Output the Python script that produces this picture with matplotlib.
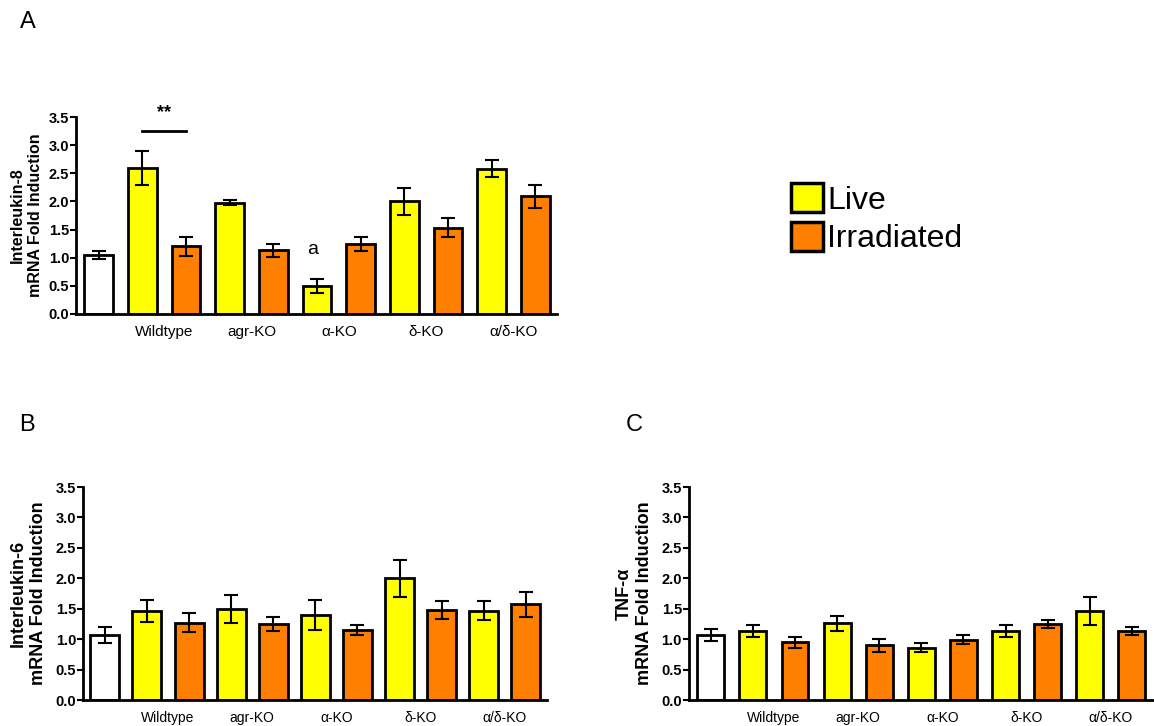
import matplotlib
matplotlib.use("Agg")
import matplotlib.pyplot as plt
from matplotlib.patches import Patch

plt.rcParams['font.family'] = ['Liberation Sans', 'DejaVu Sans']

groups = ['Wildtype', 'agr-KO', 'α-KO', 'δ-KO', 'α/δ-KO']
colors = ['white'] + ['#ffff00', '#ff7f00'] * 5

# bar order: control, then Live / Irradiated for each group
il8 = [1.05, 2.60, 1.20, 1.98, 1.13, 0.50, 1.24, 2.00, 1.53, 2.58, 2.09]
il8_err = [0.07, 0.30, 0.17, 0.05, 0.12, 0.13, 0.12, 0.24, 0.17, 0.15, 0.20]

il6 = [1.07, 1.47, 1.27, 1.50, 1.25, 1.40, 1.15, 2.00, 1.48, 1.47, 1.57]
il6_err = [0.13, 0.18, 0.16, 0.23, 0.12, 0.25, 0.08, 0.30, 0.15, 0.15, 0.20]

tnf = [1.07, 1.14, 0.95, 1.26, 0.90, 0.86, 0.99, 1.13, 1.25, 1.46, 1.13]
tnf_err = [0.10, 0.10, 0.09, 0.12, 0.11, 0.07, 0.07, 0.10, 0.06, 0.23, 0.07]


def panel(ax, vals, errs, ylab, catsize, labsize, width, labpad):
    x = list(range(len(vals)))
    ax.bar(x, vals, width=width, color=colors, edgecolor='black', linewidth=2,
           yerr=errs, error_kw=dict(ecolor='black', elinewidth=1.5, capsize=5, capthick=1.5))
    ax.set_ylim(0, 3.5)
    ax.set_xlim(-0.52, 10.5)
    ax.set_yticks([0, 0.5, 1, 1.5, 2, 2.5, 3, 3.5])
    ax.set_yticklabels(['0.0', '0.5', '1.0', '1.5', '2.0', '2.5', '3.0', '3.5'],
                       fontweight='bold', fontsize=10.5)
    ax.set_xticks([1.5 + 2 * i for i in range(5)])
    ax.set_xticklabels(groups, fontsize=catsize)
    ax.tick_params(axis='x', length=0, pad=8)
    ax.tick_params(axis='y', length=4, width=1.5, pad=1)
    for s in ['top', 'right']:
        ax.spines[s].set_visible(False)
    for s in ['left', 'bottom']:
        ax.spines[s].set_linewidth(2)
    ax.set_ylabel(ylab, fontweight='bold', fontsize=labsize, linespacing=1.25,
                  labelpad=labpad)


fig = plt.figure(figsize=(11.54, 7.26), dpi=100)

axA = fig.add_axes([0.0659, 0.5675, 0.4168, 0.2713])
panel(axA, il8, il8_err, 'Interleukin-8\nmRNA Fold Induction', 11, 11.5, 0.66, 4)
axA.plot([1, 2], [3.25, 3.25], color='black', lw=2, clip_on=False)
axA.text(1.5, 3.58, '**', ha='center', va='center', fontsize=13, fontweight='bold')
axA.text(4.9, 1.15, 'a', ha='center', va='center', fontsize=14)

axB = fig.add_axes([0.0719, 0.0358, 0.402, 0.2934])
panel(axB, il6, il6_err, 'Interleukin-6\nmRNA Fold Induction', 10, 13, 0.69, 6)

axC = fig.add_axes([0.597, 0.0358, 0.402, 0.2934])
panel(axC, tnf, tnf_err, 'TNF-α\nmRNA Fold Induction', 10, 13, 0.64, 6)

fig.text(0.017, 0.97, 'A', fontsize=17, va='center')
fig.text(0.017, 0.414, 'B', fontsize=17, va='center')
fig.text(0.542, 0.414, 'C', fontsize=17, va='center')

handles = [Patch(facecolor='#ffff00', edgecolor='black', linewidth=2.5),
           Patch(facecolor='#ff7f00', edgecolor='black', linewidth=2.5)]
fig.legend(handles, ['Live', 'Irradiated'], loc='upper left',
           bbox_to_anchor=(0.674, 0.765), frameon=False, fontsize=23,
           handlelength=1.0, handleheight=1.0, handletextpad=0.15,
           labelspacing=0.2, borderaxespad=0)

fig.savefig('out.png', dpi=100)
